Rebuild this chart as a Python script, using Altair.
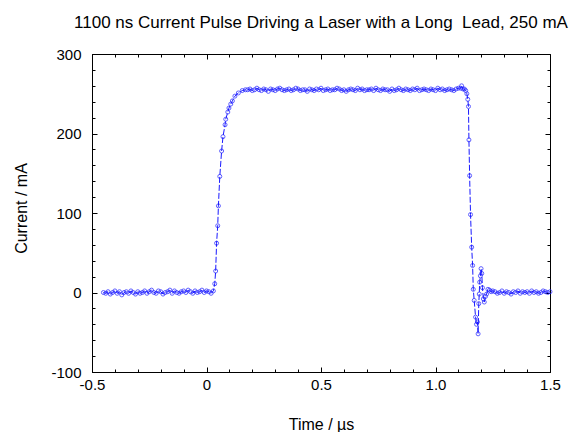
import altair as alt
import pandas as pd

TITLE = "1100 ns Current Pulse Driving a Laser with a Long \u00a0Lead, 250 mA"
X_TITLE = "Time / µs"
Y_TITLE = "Current / mA"

# ---- data (time in µs, current in mA) ----
base_t = [-0.45, -0.44, -0.43, -0.42, -0.41, -0.40, -0.39, -0.38, -0.37, -0.36,
          -0.35, -0.34, -0.33, -0.32, -0.31, -0.30, -0.29, -0.28, -0.27, -0.26,
          -0.25, -0.24, -0.23, -0.22, -0.21, -0.20, -0.19, -0.18, -0.17, -0.16,
          -0.15, -0.14, -0.13, -0.12, -0.11, -0.10, -0.09, -0.08, -0.07, -0.06,
          -0.05, -0.04, -0.03, -0.02, -0.01, 0.00, 0.01, 0.02, 0.03]
base_i = [0, -1, 1, -2, 0, 2, -1, 1, -3, 0, 1, -1, 2, 0, -2, 1, -1, 0, 2, -1,
          1, 3, 0, -1, 2, 1, -2, 0, 1, 3, -1, 2, 0, -1, 1, 2, 0, 3, 1, -1,
          2, 0, 1, 3, 0, 2, 1, -1, 2]

rise_t = [0.036, 0.040, 0.044, 0.049, 0.052, 0.058, 0.066, 0.072, 0.081, 0.084,
          0.093, 0.098, 0.106, 0.113, 0.124, 0.139, 0.156, 0.170]
rise_i = [11, 27, 62, 84, 109, 146, 178, 196, 211, 218,
          227, 232, 237, 241, 247, 251, 254, 255]

flat_t = [0.18, 0.19, 0.20, 0.21, 0.22, 0.23, 0.24, 0.25, 0.26, 0.27,
          0.28, 0.29, 0.30, 0.31, 0.32, 0.33, 0.34, 0.35, 0.36, 0.37,
          0.38, 0.39, 0.40, 0.41, 0.42, 0.43, 0.44, 0.45, 0.46, 0.47,
          0.48, 0.49, 0.50, 0.51, 0.52, 0.53, 0.54, 0.55, 0.56, 0.57,
          0.58, 0.59, 0.60, 0.61, 0.62, 0.63, 0.64, 0.65, 0.66, 0.67,
          0.68, 0.69, 0.70, 0.71, 0.72, 0.73, 0.74, 0.75, 0.76, 0.77,
          0.78, 0.79, 0.80, 0.81, 0.82, 0.83, 0.84, 0.85, 0.86, 0.87,
          0.88, 0.89, 0.90, 0.91, 0.92, 0.93, 0.94, 0.95, 0.96, 0.97,
          0.98, 0.99, 1.00, 1.01, 1.02, 1.03, 1.04, 1.05, 1.06, 1.07,
          1.08, 1.09, 1.10]
flat_i = [255, 256, 254, 255, 257, 255, 254, 256, 255, 253,
          256, 255, 254, 256, 257, 255, 254, 255, 256, 254,
          255, 257, 256, 254, 255, 255, 253, 256, 255, 254,
          256, 255, 257, 254, 255, 256, 254, 255, 255, 257,
          256, 254, 255, 253, 255, 256, 255, 254, 257, 255,
          256, 254, 255, 255, 256, 254, 257, 255, 254, 256,
          255, 255, 253, 256, 254, 255, 257, 255, 254, 256,
          255, 254, 256, 255, 257, 254, 255, 256, 255, 254,
          256, 255, 254, 257, 255, 256, 254, 255, 256, 255,
          254, 256, 257]

fall_t = [1.110, 1.114, 1.120, 1.126, 1.132, 1.137, 1.141, 1.144, 1.146, 1.149,
          1.153, 1.158, 1.162, 1.165, 1.169, 1.175, 1.179, 1.183, 1.186, 1.189,
          1.191, 1.193, 1.196, 1.199, 1.202, 1.205, 1.209, 1.213, 1.218, 1.223,
          1.229, 1.236, 1.243, 1.250]
fall_i = [257, 260, 256, 256, 254, 250, 243, 234, 192, 147,
          98, 57, 34, 4, -10, -31, -40, -37, -52, -14,
          -2, 13, 21, 30, 24, 6, -8, -12, -5, -2,
          4, 3, 1, 2]

tail_t = [1.26, 1.27, 1.28, 1.29, 1.30, 1.31, 1.32, 1.33, 1.34, 1.35,
          1.36, 1.37, 1.38, 1.39, 1.40, 1.41, 1.42, 1.43, 1.44, 1.45,
          1.46, 1.47, 1.48, 1.49, 1.50]
tail_i = [1, -1, 0, 2, -1, 1, 0, -2, 1, 0, 2, -1, 1, 0, 1, -1, 2, 0, 1, -1,
          0, 2, 1, 0, 1]

time_us = base_t + rise_t + flat_t + fall_t + tail_t
current_mA = base_i + rise_i + flat_i + fall_i + tail_i

x_domain = [-0.5, 1.5]
y_domain = [-100, 300]
x_major = [-0.5, 0.0, 0.5, 1.0, 1.5]
y_major = [-100, 0, 100, 200, 300]
x_minor = [-0.5, -0.4, -0.3, -0.2, -0.1, 0.0, 0.1, 0.2, 0.3, 0.4, 0.5,
           0.6, 0.7, 0.8, 0.9, 1.0, 1.1, 1.2, 1.3, 1.4, 1.5]
y_minor = [-100, -80, -60, -40, -20, 0, 20, 40, 60, 80, 100, 120, 140,
           160, 180, 200, 220, 240, 260, 280, 300]

df = pd.DataFrame({"t": time_us, "i": current_mA})

W, H = 458, 318
FONT = "Liberation Sans"
BLUE = "#1a1aff"

xs = alt.Scale(domain=x_domain, nice=False, zero=False)
ys = alt.Scale(domain=y_domain, nice=False, zero=False)

x_tick_size = {"condition": {"test": "abs(datum.value*2 - round(datum.value*2)) < 0.001", "value": 5}, "value": 3}
y_tick_size = {"condition": {"test": "abs(datum.value/100 - round(datum.value/100)) < 0.001", "value": 5}, "value": 3}

line = alt.Chart(df).mark_line(color=BLUE, strokeWidth=1, strokeDash=[6, 2]).encode(
    x=alt.X("t:Q", scale=xs, axis=alt.Axis(
        orient="bottom", values=x_major, grid=False, ticks=False, tickSize=0,
        domain=True, domainColor="black", domainWidth=1, labelFlush=False,
        labelExpr="datum.value == 0 ? '0' : (datum.value < 0 ? '-' + format(-datum.value, '.1f') : format(datum.value, '.1f'))",
        labelFont=FONT, labelFontSize=15, labelColor="black", labelPadding=5,
        title=X_TITLE, titleFont=FONT, titleFontSize=16, titleFontWeight="normal",
        titleColor="black", titlePadding=24)),
    y=alt.Y("i:Q", scale=ys, axis=alt.Axis(
        orient="left", values=y_major, grid=False, ticks=False, tickSize=0,
        domain=True, domainColor="black", domainWidth=1, labelFlush=False,
        labelExpr="'' + datum.value",
        labelFont=FONT, labelFontSize=15, labelColor="black", labelPadding=11,
        title=Y_TITLE, titleFont=FONT, titleFontSize=16, titleFontWeight="normal",
        titleColor="black", titlePadding=21, titleY=154)),
)

points = alt.Chart(df).mark_point(shape="circle", size=16, filled=False,
                                  color=BLUE, strokeWidth=1).encode(
    x=alt.X("t:Q", scale=xs, axis=alt.Axis(
        orient="top", offset=-H, values=x_minor, labels=False, domain=False,
        grid=False, ticks=True, tickSize=x_tick_size, tickColor="black", title=None)),
    y=alt.Y("i:Q", scale=ys, axis=alt.Axis(
        orient="right", offset=-W, values=y_minor, labels=False, domain=False,
        grid=False, ticks=True, tickSize=y_tick_size, tickColor="black", title=None)),
)

ghost = alt.Chart(df).mark_point(opacity=0).encode(
    x=alt.X("t:Q", scale=xs, axis=alt.Axis(
        orient="bottom", offset=-H, values=x_minor, labels=False, domain=False,
        grid=False, ticks=True, tickSize=x_tick_size, tickColor="black", title=None)),
    y=alt.Y("i:Q", scale=ys, axis=alt.Axis(
        orient="left", offset=-W, values=y_minor, labels=False, domain=False,
        grid=False, ticks=True, tickSize=y_tick_size, tickColor="black", title=None)),
)

chart = alt.layer(line, points, ghost).resolve_axis(
    x="independent", y="independent"
).properties(
    width=W, height=H,
    title=alt.TitleParams(TITLE, font=FONT, fontSize=17, fontWeight="normal",
                          color="black", anchor="middle", offset=15),
    padding={"left": 5, "top": 6, "right": 5, "bottom": 0},
).configure_view(stroke="black", strokeWidth=1)

chart.save("out.html", embed_options={"renderer": "svg", "actions": False})
